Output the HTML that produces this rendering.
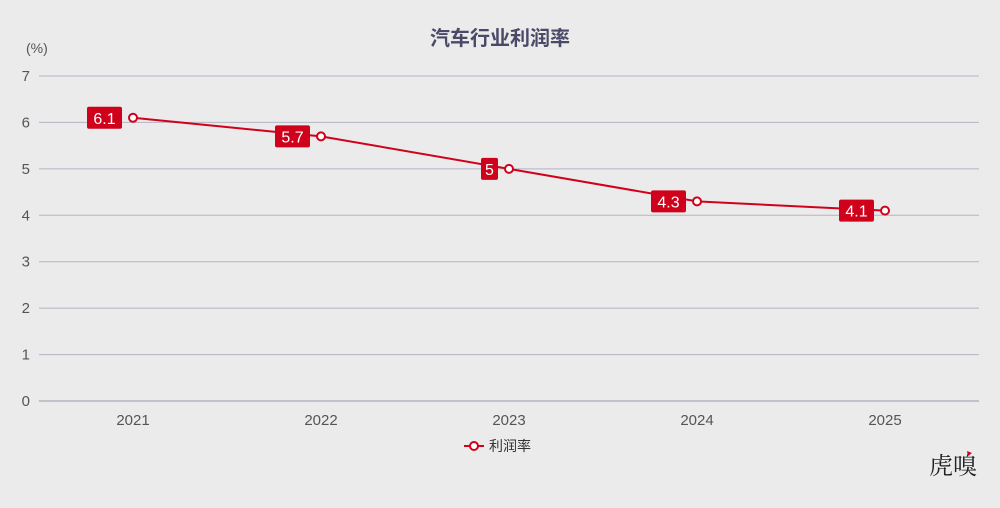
<!DOCTYPE html>
<html><head><meta charset="utf-8"><style>
html,body{margin:0;padding:0;background:#ebebeb;}
svg{display:block;font-family:"Liberation Sans","Noto Sans CJK SC",sans-serif;}
</style></head><body>
<svg id="c" width="1000" height="508" viewBox="0 0 1000 508">
<rect width="1000" height="508" fill="#ebebeb"/>
<text x="500" y="45" text-anchor="middle" font-size="20" font-weight="bold" fill="#4a4a68" font-family="'Liberation Sans','Noto Sans CJK SC',sans-serif">汽车行业利润率</text>
<text x="26" y="53" font-size="14" fill="#555">(%)</text>
<g id="grid"></g><g id="xl"></g><g id="series"></g>
<g>
<line x1="464" y1="446" x2="484" y2="446" stroke="#d0021b" stroke-width="2"/>
<circle cx="474" cy="446" r="4" fill="#fff" stroke="#d0021b" stroke-width="2"/>
<text x="489" y="451" font-size="14" fill="#333">利润率</text>
</g>
<text x="977" y="474" text-anchor="end" font-size="24" fill="#222" font-family="'Noto Serif CJK SC',serif">虎嗅</text>
<path d="M967 451 l5 2 l-4 3 z" fill="#d0021b"/>
</svg>
<script>
const categories=["2021","2022","2023","2024","2025"];
const values=[6.1,5.7,5,4.3,4.1];
const yTicks=[0,1,2,3,4,5,6,7];
const NS="http://www.w3.org/2000/svg";
const x0=39,x1=979,y0=401,y1=76,yMax=7;
const band=(x1-x0)/categories.length;
const xs=i=>x0+band*(i+0.5);
const ys=v=>y0-(y0-y1)*v/yMax;
function mk(t,a,p,txt){const e=document.createElementNS(NS,t);for(const k in a)e.setAttribute(k,a[k]);if(txt!=null)e.textContent=txt;p.appendChild(e);return e;}
const g=document.getElementById('grid');
yTicks.forEach(v=>{
 const l=mk('line',{x1:x0,x2:x1,y1:ys(v),y2:ys(v),stroke:v===0?'#9a9aae':'#b4b4c6','stroke-width':1},g);
 
 
 const t=mk('text',{x:30,y:ys(v)+5,'text-anchor':'end','font-size':15,fill:'#555'},g,String(v));
 
 
});
const xl=document.getElementById('xl');
categories.forEach((c,i)=>{
 const t=mk('text',{x:xs(i),y:425,'text-anchor':'middle','font-size':15,fill:'#555'},xl,c);
 
 
});
const s=document.getElementById('series');
const pl=mk('polyline',{points:values.map((v,i)=>xs(i)+','+ys(v)).join(' '),fill:'none',stroke:'#d0021b','stroke-width':2},s);


values.forEach((v,i)=>{
 const x=xs(i),y=ys(v);
 const c=mk('circle',{cx:x,cy:y,r:4,fill:'#fff',stroke:'#d0021b','stroke-width':2},s);
 
 
 const txt=String(v);
 const w=txt.length*9+8;
 const r=mk('rect',{x:x-11-w,y:y-11,width:w,height:22,rx:2,fill:'#d0021b'},s);
 
 
 const t=mk('text',{x:x-11-w/2,y:y+6,'text-anchor':'middle','font-size':16,fill:'#fff'},s,txt);
 
 
});
</script>
</body></html>
